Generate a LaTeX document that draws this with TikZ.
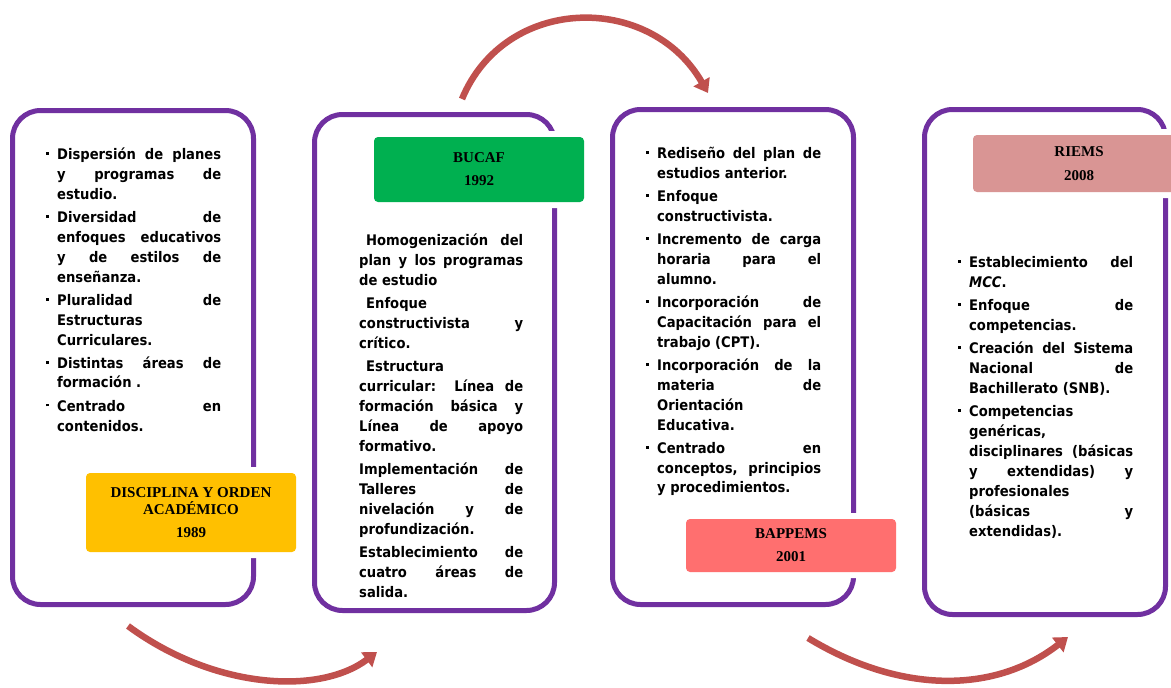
\documentclass[tikz,border=0pt]{standalone}
\usepackage{fontspec}
\usetikzlibrary{arrows.meta}
\newfontfamily\bodyfont{DejaVu Sans Condensed}
\newfontfamily\labelfont{Liberation Serif}

\definecolor{panelpurple}{HTML}{7030A0}
\definecolor{arrowred}{HTML}{C0504D}
\definecolor{tagyellow}{HTML}{FFC000}
\definecolor{taggreen}{HTML}{00B050}
\definecolor{tagsalmon}{HTML}{FF6F6F}
\definecolor{tagrose}{HTML}{D99594}

% paragraph set-up for the justified lists
\newcommand\listsetup{\tolerance=10000 \hbadness=10000 \parskip=3pt \parindent=0pt}
% small square bullet hanging left of the text column
\newcommand\bulletmark{\llap{\raisebox{4.5pt}{\rule{3pt}{3pt}}\hspace{8.5pt}}}
\newcommand\firstitem{\leavevmode\bulletmark}
\newcommand\dotitem{\par\leavevmode\bulletmark}

\tikzset{
  panel/.style={draw=panelpurple, line width=5pt, rounded corners=28pt,
    inner sep=0pt, fill=white},
  tag/.style={rounded corners=4pt, inner sep=0pt, align=center,
    font=\labelfont\bfseries\fontsize{15}{17}\selectfont,
    preaction={draw=white, line width=12pt}},
  listtext/.style={anchor=base west, inner sep=0pt, text width=164pt,
    align=justify, font=\bodyfont\bfseries\fontsize{14.6}{20}\selectfont},
  flow/.style={draw=arrowred, line width=6.5pt,
    -{Triangle[width=18pt,length=13pt]}},
}

\begin{document}
\begin{tikzpicture}[x=1pt, y=-1pt]
\useasboundingbox (0,0) rectangle (1171,688);
\clip (0,0) rectangle (1171,688);

% the four period panels
\node[panel, minimum width=241pt, minimum height=494pt] (p1) at (133,357.5) {};
\node[panel, minimum width=240pt, minimum height=496pt] (p2) at (434.5,362.5) {};
\node[panel, minimum width=241pt, minimum height=495pt] (p3) at (733,357) {};
\node[panel, minimum width=241pt, minimum height=505pt] (p4) at (1045,362) {};

% panel contents
\node[listtext] (t1) at (57,159) {\listsetup
\firstitem Dispersión de planes\linebreak y programas de\linebreak estudio.
\dotitem Diversidad de\linebreak enfoques educativos\linebreak y de estilos de\linebreak enseñanza.
\dotitem Pluralidad de\linebreak Estructuras\linebreak Curriculares.
\dotitem Distintas áreas de\linebreak formación .
\dotitem Centrado en\linebreak contenidos.\par};

\node[listtext] (t2) at (359,245) {\listsetup
\hspace*{7pt}Homogenización del\linebreak plan y los programas\linebreak de estudio\par
\hspace*{7pt}Enfoque\linebreak constructivista y\linebreak crítico.\par
\hspace*{7pt}Estructura\linebreak curricular: Línea de\linebreak formación básica y\linebreak Línea de apoyo\linebreak formativo.\par
Implementación de\linebreak Talleres de\linebreak nivelación y de\linebreak profundización.\par
Establecimiento de\linebreak cuatro áreas de\linebreak salida.\par};

\node[listtext] (t3) at (657,158) {\listsetup
\firstitem Rediseño del plan de\linebreak estudios anterior.
\dotitem Enfoque\linebreak constructivista.
\dotitem Incremento de carga\linebreak horaria para el\linebreak alumno.
\dotitem Incorporación de\linebreak Capacitación para el\linebreak trabajo (CPT).
\dotitem Incorporación de la\linebreak materia de\linebreak Orientación\linebreak Educativa.
\dotitem Centrado en\linebreak conceptos, principios\linebreak y procedimientos.\par};

\node[listtext] (t4) at (969,267) {\listsetup
\firstitem Establecimiento del\linebreak \textit{MCC}.
\dotitem Enfoque de\linebreak competencias.
\dotitem Creación del Sistema\linebreak Nacional de\linebreak Bachillerato (SNB).
\dotitem Competencias\linebreak genéricas,\linebreak disciplinares (básicas\linebreak y extendidas) y\linebreak profesionales\linebreak (básicas y\linebreak extendidas).\par};

% period tags
\node[tag, fill=tagyellow, minimum width=210pt, minimum height=79pt] (g1) at (191,512.5)
  {DISCIPLINA Y ORDEN\\ACADÉMICO\\[6pt]1989};
\node[tag, fill=taggreen, minimum width=210pt, minimum height=65pt] (g2) at (479,169.5)
  {BUCAF\\[6pt]1992};
\node[tag, fill=tagsalmon, minimum width=210pt, minimum height=53pt] (g3) at (791,545.5)
  {BAPPEMS\\[6pt]2001};
\node[tag, fill=tagrose, minimum width=212pt, minimum height=57pt] (g4) at (1079,163.5)
  {RIEMS\\[7pt]2008};

% curved transitions between panels
\coordinate (a1s) at (128,626);
\coordinate (a1e) at (377,652);
\coordinate (a2s) at (462,99);
\coordinate (a2e) at (708,93);
\coordinate (a3s) at (808,638);
\coordinate (a3e) at (1068,637);
\draw[flow] (a1s) .. controls (215,690) and (320,695) .. (a1e);
\draw[flow] (a2s) .. controls (505,-5) and (650,-8) .. (a2e);
\draw[flow] (a3s) .. controls (900,694) and (995,694) .. (a3e);
\end{tikzpicture}
\end{document}
